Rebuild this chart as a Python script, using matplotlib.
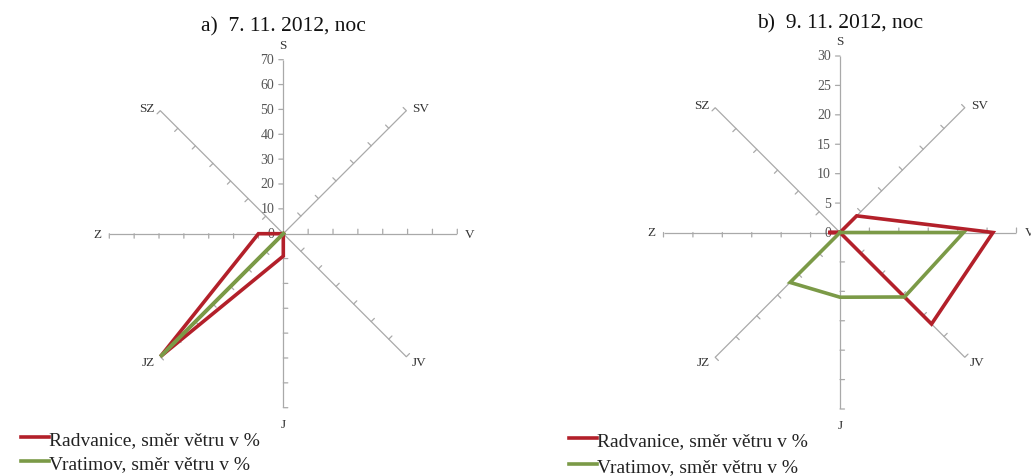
import numpy as np
import matplotlib
matplotlib.use("Agg")
import matplotlib.pyplot as plt

plt.rcParams['font.family'] = ['Liberation Serif', 'DejaVu Serif']

# Wind directions (Czech compass points), clockwise from north
directions = ["S", "SV", "V", "JV", "J", "JZ", "Z", "SZ"]

# a) 7. 11. 2012, night
radvanice_a = [0, 0, 0, 0, 9, 70, 10, 0]
vratimov_a = [0, 0, 0, 0, 0, 70, 0, 0]

# b) 9. 11. 2012, night
radvanice_b = [0, 4, 26, 22, 0, 0, 2, 0]
vratimov_b = [0, 0, 21, 15.5, 11, 12, 0, 0]

titles = ["a)  7. 11. 2012, noc", "b)  9. 11. 2012, noc"]
series_names = ["Radvanice, směr větru v %", "Vratimov, směr větru v %"]
series_colors = ["#B3202A", "#7B9A47"]
axis_max = [70, 30]
axis_step = [10, 5]

W, H = 1031, 477
DPI = 100
fig = plt.figure(figsize=(W / DPI, H / DPI), dpi=DPI)

# chart centres and radii in pixels (x from left, y from top)
centres = [(283.3, 234.7), (840.0, 233.5)]
radii = [174.0, 176.5]
title_y = [27, 24]
legend_anchor = [(21, 431), (569, 432)]
legend_spacing = [0.36, 0.45]

spoke_col = "#A9A9A9"
text_col = "#333333"
tick_len_px = 4.5

label_offsets = {
    "S": (0, 9, "center", "bottom"),
    "SV": (6, 3, "left", "center"),
    "V": (8, 0, "left", "center"),
    "JV": (5, -5, "left", "center"),
    "J": (0, -10, "center", "top"),
    "JZ": (-5, -5, "right", "center"),
    "Z": (-8, 0, "right", "center"),
    "SZ": (-6, 3, "right", "center"),
}

data = [(radvanice_a, vratimov_a), (radvanice_b, vratimov_b)]
n = len(directions)
theta = np.arange(n) * 2 * np.pi / n

for k in range(2):
    cx, cy = centres[k]
    r = radii[k]
    ax = fig.add_axes([(cx - r) / W, (H - cy - r) / H, 2 * r / W, 2 * r / H],
                      projection="polar")
    ax.set_theta_zero_location("N")
    ax.set_theta_direction(-1)
    ax.set_ylim(0, axis_max[k])
    ax.grid(False)
    ax.set_xticks([])
    ax.set_yticks([])
    ax.spines["polar"].set_visible(False)
    ax.patch.set_alpha(0)

    vals = np.arange(0, axis_max[k] + 0.01, axis_step[k])
    for i, d in enumerate(directions):
        ax.plot([theta[i], theta[i]], [0, axis_max[k]], color=spoke_col,
                lw=0.9, zorder=1, solid_capstyle="butt")
        # tick marks sit on the counter-clockwise side of each spoke
        off_x = -np.cos(theta[i]) * tick_len_px
        off_y = np.sin(theta[i]) * tick_len_px
        for v in vals[1:]:
            ax.annotate("", xy=(theta[i], v), xycoords="data",
                        xytext=(off_x, off_y), textcoords="offset pixels",
                        arrowprops=dict(arrowstyle="-", color=spoke_col,
                                        lw=0.9, shrinkA=0, shrinkB=0))
        dx, dy, ha, va = label_offsets[d]
        ax.annotate(d, xy=(theta[i], axis_max[k]), xytext=(dx, dy),
                    textcoords="offset pixels", ha=ha, va=va,
                    fontsize=9.5, color=text_col)

    for v in vals:
        ax.annotate(f"{v:g}", xy=(0, v), xytext=(-9, 0),
                    textcoords="offset pixels", ha="right", va="center",
                    fontsize=10, color="#555555")

    handles = []
    for s, series in enumerate(data[k]):
        vv = list(series) + [series[0]]
        tt = list(theta) + [theta[0]]
        ln, = ax.plot(tt, vv, color=series_colors[s], lw=2.6, zorder=3 + s,
                      solid_joinstyle="miter", label=series_names[s])
        handles.append(ln)

    fig.text(cx / W, 1 - title_y[k] / H, titles[k], ha="center", va="center",
             fontsize=15.5, color="#111111")

    lx, ly = legend_anchor[k]
    fig.legend(handles=handles, loc="upper left",
               bbox_to_anchor=(lx / W, 1 - ly / H), frameon=False,
               fontsize=14, handlelength=1.45, handletextpad=0.0,
               borderpad=0, borderaxespad=0, labelspacing=legend_spacing[k],
               labelcolor="#222222")

fig.savefig("out.png", dpi=DPI)
